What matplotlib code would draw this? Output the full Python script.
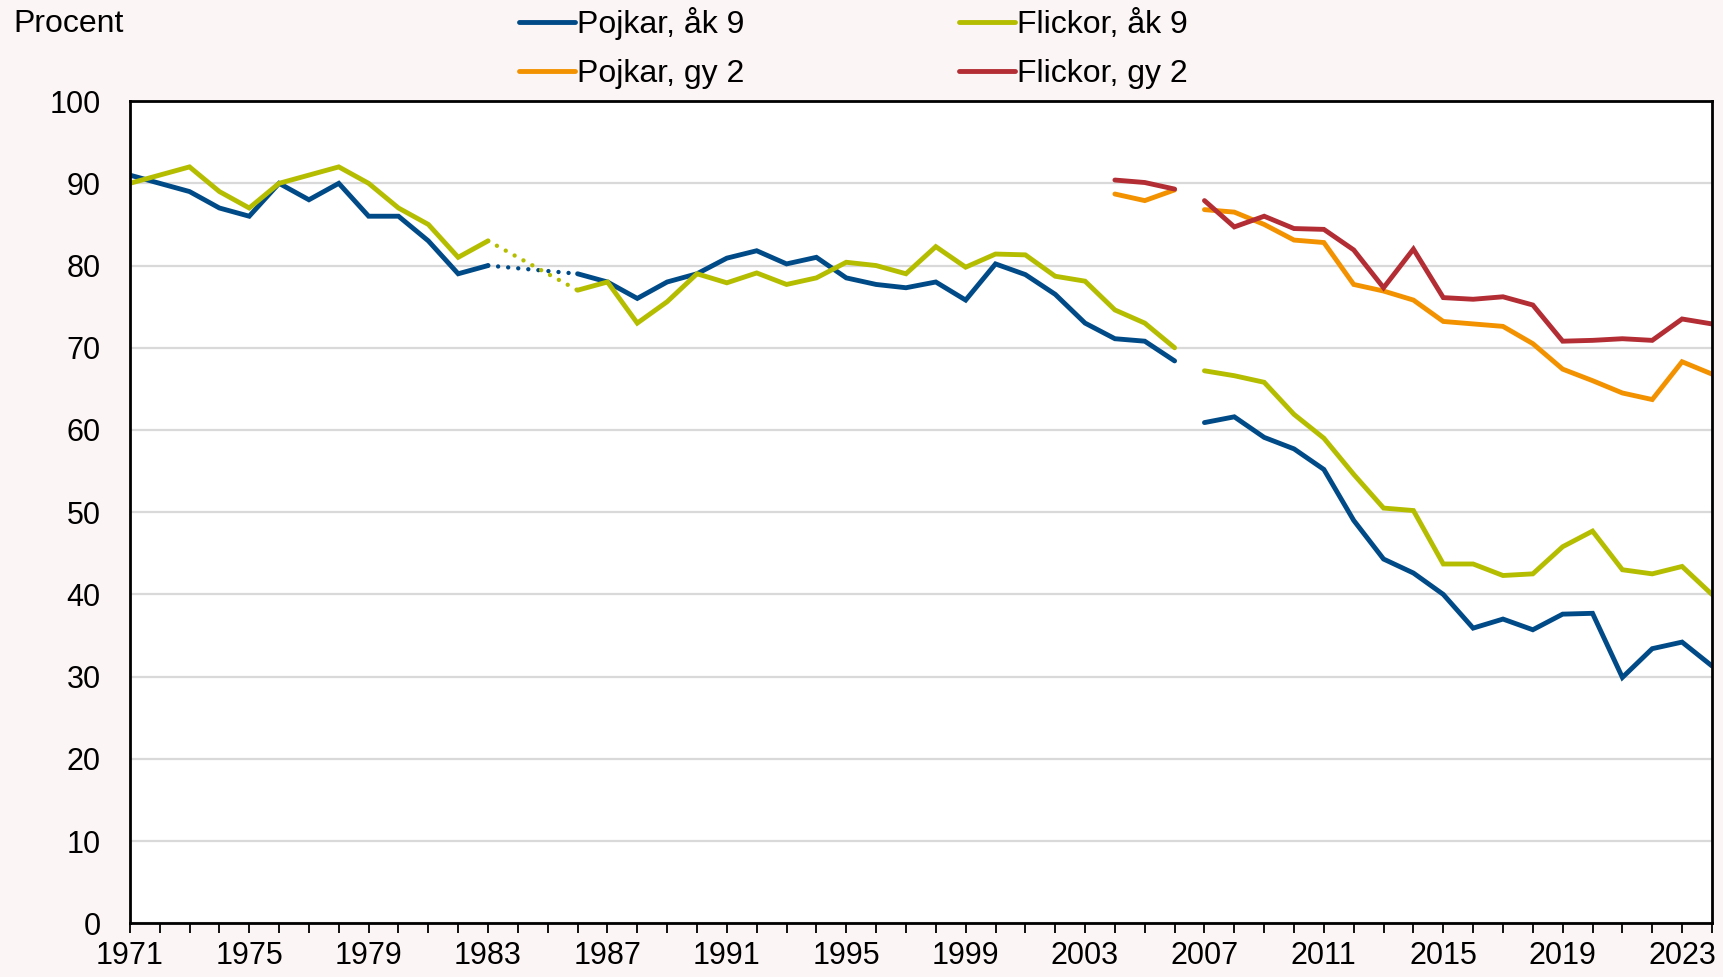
import matplotlib
matplotlib.use('Agg')
import matplotlib.pyplot as plt
import numpy as np
from matplotlib.lines import Line2D

plt.rcParams['font.family'] = ['Liberation Sans', 'DejaVu Sans']

years = list(range(1971, 2025))
nan = np.nan

# Pojkar, åk 9 (1984-85 missing, bridged with dots)
pojkar_ak9 = [91, 90, 89, 87, 86, 90, 88, 90, 86, 86, 83, 79, 80, nan, nan,
              79, 78, 76, 78, 79, 80.9, 81.8, 80.2, 81.0, 78.5, 77.7, 77.3,
              78.0, 75.8, 80.2, 78.9, 76.5, 73.0, 71.1, 70.8, 68.4,
              60.9, 61.6, 59.1, 57.7, 55.2, 49.0, 44.3, 42.6, 40.0, 35.9,
              37.0, 35.7, 37.6, 37.7, 29.9, 33.4, 34.2, 31.3]
flickor_ak9 = [90, 91, 92, 89, 87, 90, 91, 92, 90, 87, 85, 81, 83, nan, nan,
               77, 78, 73, 75.6, 79, 77.9, 79.1, 77.7, 78.5, 80.4, 80.0, 79.0,
               82.3, 79.8, 81.4, 81.3, 78.7, 78.1, 74.6, 73.0, 70.0,
               67.2, 66.6, 65.8, 61.9, 59.0, 54.6, 50.5, 50.2, 43.7, 43.7,
               42.3, 42.5, 45.8, 47.7, 43.0, 42.5, 43.4, 40.0]
gy_years = list(range(2004, 2025))
pojkar_gy2 = [88.7, 87.9, 89.2, 86.8, 86.5, 85.0, 83.1, 82.8, 77.7, 76.9, 75.8,
              73.2, 72.9, 72.6, 70.5, 67.4, 66.0, 64.5, 63.7, 68.3, 66.8]
flickor_gy2 = [90.4, 90.1, 89.3, 87.9, 84.7, 86.0, 84.5, 84.4, 81.9, 77.3, 82.0,
               76.1, 75.9, 76.2, 75.2, 70.8, 70.9, 71.1, 70.9, 73.5, 72.9]

# survey method breaks: no line drawn across these
periods = [(1971, 2006), (2007, 2024)]

labels = ["Pojkar, åk 9", "Flickor, åk 9", "Pojkar, gy 2", "Flickor, gy 2"]
colors = ["#004B87", "#B5BD00", "#F39200", "#B32D34"]
bg = "#FCF5F5"

fig = plt.figure(figsize=(17.24, 9.77), dpi=100, facecolor=bg)
ax = fig.add_axes([0.0753, 0.055, 0.9177, 0.8415])
ax.set_facecolor("white")

lw = 3.5

def draw(xs, ys, color):
    xs = np.array(xs)
    ys = np.array(ys, dtype=float)
    for a, b in periods:
        m = (xs >= a) & (xs <= b)
        ax.plot(xs[m], ys[m], color=color, lw=lw, solid_capstyle='round',
                solid_joinstyle='miter', zorder=3)
    # dotted bridge over missing years
    isn = np.isnan(ys)
    for i in range(1, len(ys) - 1):
        if isn[i] and not isn[i - 1]:
            j = i
            while j < len(ys) and isn[j]:
                j += 1
            if j < len(ys):
                ax.plot([xs[i - 1], xs[j]], [ys[i - 1], ys[j]], color=color,
                        lw=lw * 0.9, linestyle=(0, (0.01, 2.3)),
                        dash_capstyle='round', zorder=3)

draw(years, pojkar_ak9, colors[0])
draw(years, flickor_ak9, colors[1])
draw(gy_years, pojkar_gy2, colors[2])
draw(gy_years, flickor_gy2, colors[3])

ax.set_xlim(1971, 2024)
ax.set_ylim(0, 100)
ax.set_yticks(range(0, 101, 10))
ax.set_xticks(years)
ax.set_xticklabels([str(y) if (y - 1971) % 4 == 0 else "" for y in years])
ax.grid(axis='y', color='#D9D9D9', lw=1.6, zorder=0)
ax.tick_params(axis='x', length=7, width=1.3, direction='out', pad=6,
               labelsize=22)
ax.tick_params(axis='y', length=0, pad=21, labelsize=22)
for s in ax.spines.values():
    s.set_linewidth(2)
    s.set_color('black')
    s.set_zorder(4)

fig.text(0.0077, 0.975, "Procent", fontsize=23, va='center', ha='left')

handles = [Line2D([0], [0], color=c, lw=lw, solid_capstyle='round') for c in colors]
leg = fig.legend([handles[0], handles[2], handles[1], handles[3]],
                 [labels[0], labels[2], labels[1], labels[3]],
                 ncol=2, loc='center', bbox_to_anchor=(0.495, 0.951),
                 frameon=False, fontsize=23, handlelength=1.75,
                 handletextpad=0.08, columnspacing=6.7, labelspacing=0.6)

fig.savefig("out.png", dpi=100, facecolor=bg)
